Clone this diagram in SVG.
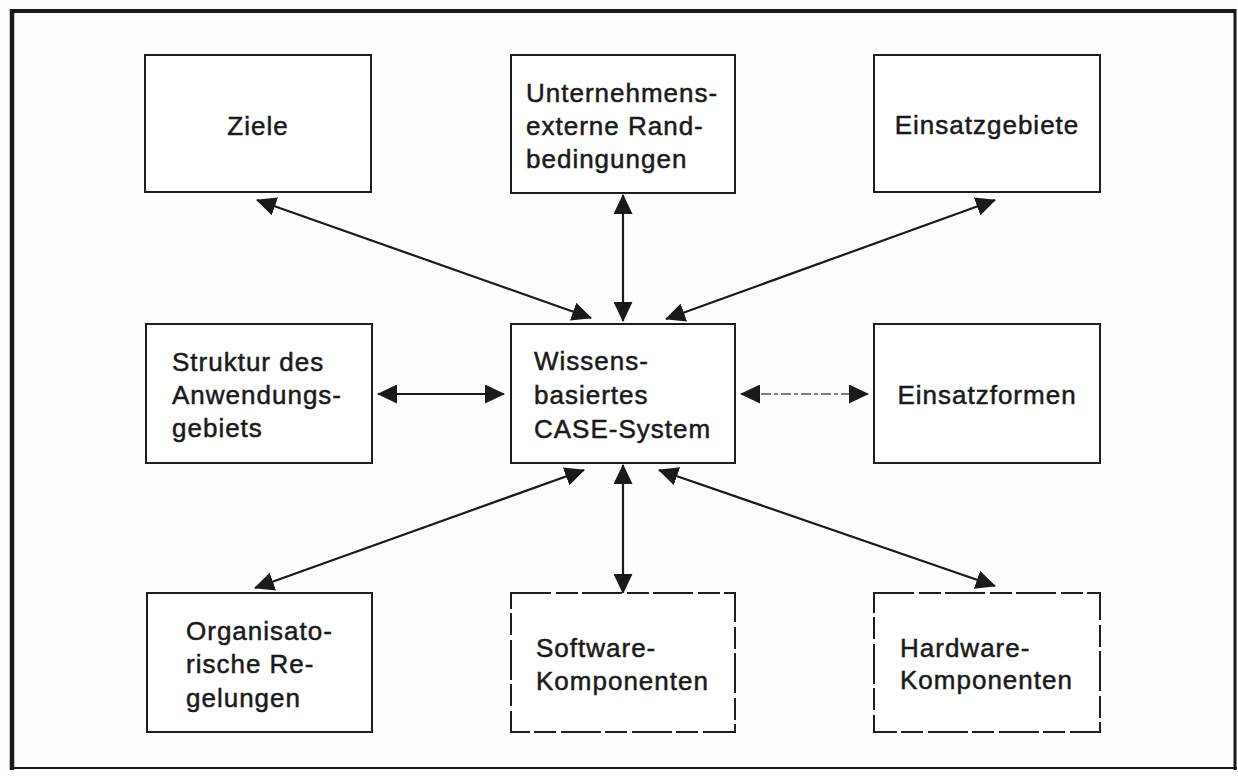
<svg xmlns="http://www.w3.org/2000/svg" width="1238" height="776" viewBox="0 0 1238 776">
  <style>
    .box { fill: #ffffff; stroke: #1e1e1e; stroke-width: 2; }
    .box.dashed { stroke-dasharray: 40 5 22 4; }
    .label { font-family: "Liberation Sans", Arial, Helvetica, sans-serif; font-size: 26px; letter-spacing: 1px; fill: #1a1a1a; stroke: #1a1a1a; stroke-width: 0.5; }
    .link { stroke: #1a1a1a; stroke-width: 2.2; fill: none; marker-start: url(#head); marker-end: url(#head); }
    .link.faint { stroke: #555555; stroke-width: 1.4; stroke-dasharray: 10 3 4 3; }
  </style>
  <defs>
    <marker id="head" viewBox="0 0 20 19" refX="19" refY="9.5" markerWidth="20" markerHeight="19" markerUnits="userSpaceOnUse" orient="auto-start-reverse">
      <path d="M0,0 L20,9.5 L0,19 z" fill="#1a1a1a"/>
    </marker>
  </defs>

  <rect width="1238" height="776" fill="#fdfdfd"/>

  <!-- outer frame -->
  <g id="frame" fill="none" stroke="#1a1a1a">
    <line x1="10" y1="11" x2="1236" y2="11" stroke-width="4"/>
    <line x1="12" y1="9" x2="12" y2="770" stroke-width="4.5"/>
    <line x1="1235" y1="9" x2="1235" y2="770" stroke-width="3"/>
    <line x1="10" y1="768" x2="1237" y2="768" stroke-width="2"/>
  </g>

  <!-- connectors -->
  <g id="connectors">
    <line class="link" x1="257" y1="200" x2="591" y2="318"/>
    <line class="link" x1="623" y1="195" x2="623" y2="321"/>
    <line class="link" x1="995" y1="200" x2="666" y2="319"/>
    <line class="link" x1="378" y1="394" x2="504" y2="394"/>
    <line class="link faint" x1="741" y1="394" x2="868" y2="394"/>
    <line class="link" x1="584" y1="470" x2="255" y2="588"/>
    <line class="link" x1="623" y1="465" x2="623" y2="593"/>
    <line class="link" x1="659" y1="470" x2="995" y2="586"/>
  </g>

  <g id="ziele">
    <rect class="box" x="145" y="55" width="226" height="137"/>
    <text class="label" x="258" y="135" text-anchor="middle">Ziele</text>
  </g>

  <g id="randbedingungen">
    <rect class="box" x="511" y="55" width="224" height="138"/>
    <text class="label" x="526" y="102">Unternehmens-</text>
    <text class="label" x="526" y="135">externe Rand-</text>
    <text class="label" x="526" y="168">bedingungen</text>
  </g>

  <g id="einsatzgebiete">
    <rect class="box" x="874" y="55" width="226" height="137"/>
    <text class="label" x="987" y="134" text-anchor="middle">Einsatzgebiete</text>
  </g>

  <g id="struktur">
    <rect class="box" x="146" y="324" width="226" height="139"/>
    <text class="label" x="172" y="371">Struktur des</text>
    <text class="label" x="172" y="404">Anwendungs-</text>
    <text class="label" x="172" y="437">gebiets</text>
  </g>

  <g id="case-system">
    <rect class="box" x="511" y="324" width="224" height="139"/>
    <text class="label" x="534" y="370">Wissens-</text>
    <text class="label" x="534" y="404">basiertes</text>
    <text class="label" x="534" y="438">CASE-System</text>
  </g>

  <g id="einsatzformen">
    <rect class="box" x="874" y="324" width="226" height="139"/>
    <text class="label" x="987" y="404" text-anchor="middle">Einsatzformen</text>
  </g>

  <g id="organisation">
    <rect class="box" x="147" y="593" width="225" height="139"/>
    <text class="label" x="186" y="640">Organisato-</text>
    <text class="label" x="186" y="673">rische Re-</text>
    <text class="label" x="186" y="707">gelungen</text>
  </g>

  <g id="software">
    <rect class="box dashed" x="511" y="593" width="224" height="139"/>
    <text class="label" x="536" y="657">Software-</text>
    <text class="label" x="536" y="690">Komponenten</text>
  </g>

  <g id="hardware">
    <rect class="box dashed" x="874" y="593" width="226" height="139"/>
    <text class="label" x="900" y="657">Hardware-</text>
    <text class="label" x="900" y="689">Komponenten</text>
  </g>
</svg>
